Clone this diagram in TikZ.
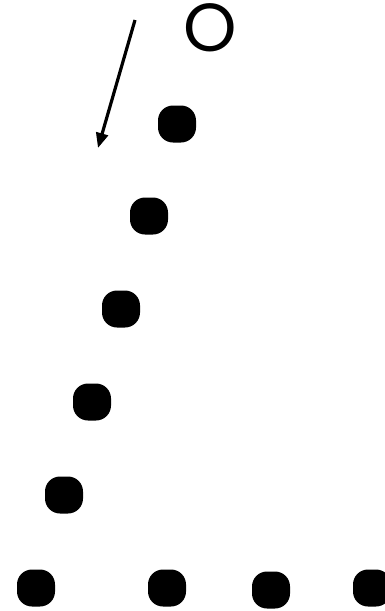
\documentclass[tikz,border=0pt]{standalone}
\usepackage{fontspec}
\setmainfont{Poppins}
\usetikzlibrary{arrows.meta}

\begin{document}
\begin{tikzpicture}[x=1pt, y=-1pt,
    dot/.style={fill=black, rounded corners=15pt, minimum width=38pt, minimum height=37pt, inner sep=0pt},
    ringlabel/.style={font=\fontsize{68}{68}\selectfont, inner sep=0pt}]
  \useasboundingbox (0,0) rectangle (384,611);

  % open mark at the top
  \node[ringlabel] (ring) at (210,28) {O};

  % diagonal row of dots
  \foreach \i/\xpos/\ypos in {1/177/124, 2/149/216, 3/121/309, 4/92/402, 5/64/495} {
    \node[dot] (d\i) at (\xpos,\ypos) {};
  }

  % bottom row of dots
  \foreach \i/\xpos/\ypos in {1/36/588, 2/167/588, 3/271/590, 4/372/588} {
    \node[dot] (b\i) at (\xpos,\ypos) {};
  }

  % arrow
  \coordinate (start) at (135,20);
  \coordinate (tip) at (98,148);
  \draw[line width=3.2pt, -{Triangle[length=15pt,width=12pt]}] (start) -- (tip);
\end{tikzpicture}
\end{document}
